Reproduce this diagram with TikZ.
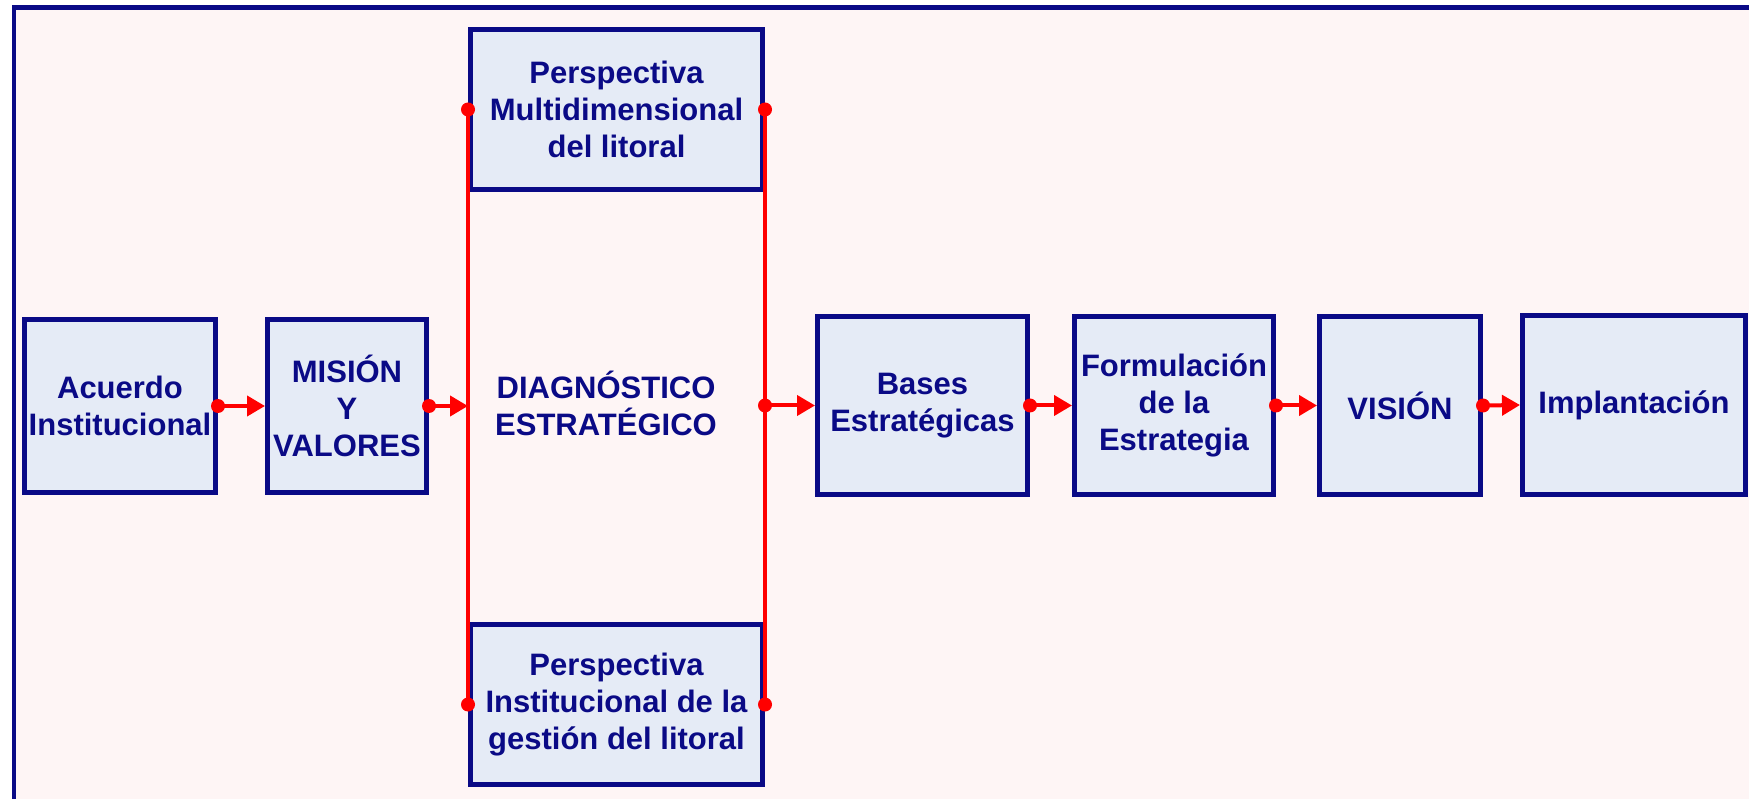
\documentclass[tikz,border=0pt]{standalone}
\usepackage{fontspec}
\setmainfont{Liberation Sans}
\usetikzlibrary{arrows.meta,calc}
\definecolor{navy}{HTML}{0A0A86}
\definecolor{boxfill}{HTML}{E5EBF6}
\definecolor{bgpink}{HTML}{FEF5F5}
\definecolor{lred}{HTML}{FF0000}
\tikzset{
  stepbox/.style={draw=navy, line width=5pt, fill=boxfill, text=navy,
    font=\fontsize{31}{37}\selectfont\bfseries, align=center, inner sep=0pt},
  conn/.style={draw=lred, line width=4pt, -{Triangle[length=18pt,width=20pt]}},
  redline/.style={draw=lred, line width=4pt},
  dot/.style={fill=lred}
}
\begin{document}
\begin{tikzpicture}[x=1pt,y=-1pt]
\useasboundingbox (0,0) rectangle (1749,799);
\fill[white] (0,0) rectangle (1749,799);
\draw[navy, line width=4.5pt, fill=bgpink] (14,7.5) rectangle (1800,850);
% boxes
\node[stepbox, minimum width=191pt, minimum height=173pt] (acuerdo) at (120,406) {Acuerdo\\Institucional};
\node[stepbox, minimum width=159pt, minimum height=173pt] (mision) at (347,406) {MISIÓN\\Y\\VALORES};
\node[stepbox, minimum width=292pt, minimum height=160pt] (pm1) at (616.5,109.5) {Perspectiva\\Multidimensional\\del litoral};
\node[stepbox, minimum width=292pt, minimum height=160pt] (pm2) at (616.5,704.5) {Perspectiva\\Institucional de la\\gestión del litoral};
\node[text=navy, font=\fontsize{31}{37}\selectfont\bfseries, align=center] (diag) at (606,403) {DIAGNÓSTICO\\ESTRATÉGICO};
\node[stepbox, minimum width=210pt, minimum height=178pt] (bases) at (922.5,405.5) {Bases\\Estratégicas};
\node[stepbox, minimum width=199pt, minimum height=178pt] (form) at (1174,405.5) {Formulación\\de la\\Estrategia};
\node[stepbox, minimum width=161pt, minimum height=178pt] (vision) at (1400,405.5) {VISIÓN};
\node[stepbox, minimum width=223pt, minimum height=179pt] (impl) at (1634,405) {Implantación};
% junction coordinates
\coordinate (jl) at (mision.east -| pm1.west);
\coordinate (jr) at (bases.west -| pm1.east);
% vertical red lines
\draw[redline] (pm1.west) -- (pm2.west);
\draw[redline] (pm1.east) -- (pm2.east);
% connectors
\draw[conn] (acuerdo.east) -- (mision.west);
\draw[conn] (mision.east) -- (jl);
\draw[conn] (jr) -- (bases.west);
\draw[conn] (bases.east) -- (form.west);
\draw[conn] (form.east) -- (vision.west);
\draw[conn] (vision.east) -- (impl.west);
% dots
\foreach \p in {acuerdo.east, mision.east, jr, bases.east, form.east, vision.east, pm1.west, pm1.east, pm2.west, pm2.east}
  \fill[dot] (\p) circle[radius=7pt];
\end{tikzpicture}
\end{document}
